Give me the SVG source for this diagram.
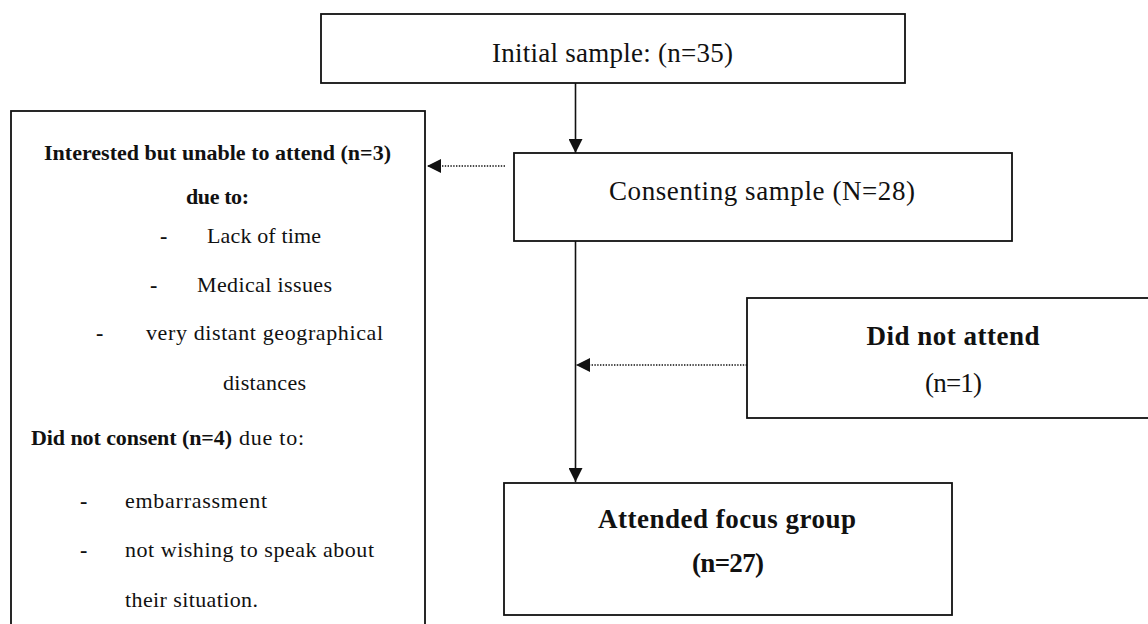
<svg xmlns="http://www.w3.org/2000/svg" width="1148" height="624" viewBox="0 0 1148 624">
  <style>
    .box { fill: #ffffff; stroke: #111111; stroke-width: 1.8; }
    .t { font-family: "Liberation Serif", "Times New Roman", serif; fill: #111111; }
    .big { font-size: 27px; }
    .small { font-size: 22px; }
    .b { font-weight: bold; }
    .mid { text-anchor: middle; }
    .solid { stroke: #111111; stroke-width: 1.6; fill: none; }
    .dot { stroke: #111111; stroke-width: 1.6; fill: none; stroke-dasharray: 1.4 1.4; }
  </style>
  <defs>
    <marker id="head" viewBox="0 0 14 14" refX="14" refY="7" markerWidth="14" markerHeight="14" markerUnits="userSpaceOnUse" orient="auto">
      <path d="M0,0 L14,7 L0,14 Z" fill="#111111"/>
    </marker>
  </defs>

  <rect width="1148" height="624" fill="#ffffff"/>

  <!-- connectors -->
  <g id="connectors">
    <line class="solid" x1="575.5" y1="83" x2="575.5" y2="153" marker-end="url(#head)"/>
    <line class="dot" x1="505" y1="166" x2="427" y2="166" marker-end="url(#head)"/>
    <line class="solid" x1="575.5" y1="241" x2="575.5" y2="482" marker-end="url(#head)"/>
    <line class="dot" x1="747" y1="365" x2="576" y2="365" marker-end="url(#head)"/>
  </g>

  <!-- initial sample -->
  <g id="initial">
    <rect class="box" x="321" y="14" width="584" height="69"/>
    <text class="t big" x="492" y="62" textLength="241">Initial sample: (n=35)</text>
  </g>

  <!-- consenting sample -->
  <g id="consenting">
    <rect class="box" x="514" y="153" width="498" height="88"/>
    <text class="t big" x="609" y="200" textLength="306">Consenting sample (N=28)</text>
  </g>

  <!-- reasons for non-participation -->
  <g id="excluded">
    <rect class="box" x="11" y="111" width="414" height="520"/>
    <text class="t small b mid" x="217.5" y="160" textLength="347">Interested but unable to attend (n=3)</text>
    <text class="t small b" x="186" y="204" textLength="63">due to:</text>
    <text class="t small b" x="160" y="243">-</text>
    <text class="t small" x="207" y="243" textLength="114">Lack of time</text>
    <text class="t small b" x="150" y="292">-</text>
    <text class="t small" x="197" y="292" textLength="135">Medical issues</text>
    <text class="t small b" x="96" y="340">-</text>
    <text class="t small" x="146" y="340" textLength="237">very distant geographical</text>
    <text class="t small" x="223" y="390" textLength="83">distances</text>
    <text class="t small"><tspan class="b" x="31" y="445" textLength="201">Did not consent (n=4)</tspan><tspan x="239" y="445" textLength="65">due to:</tspan></text>
    <text class="t small b" x="80" y="508">-</text>
    <text class="t small" x="125" y="508" textLength="142">embarrassment</text>
    <text class="t small b" x="80" y="557">-</text>
    <text class="t small" x="125" y="557" textLength="249">not wishing to speak about</text>
    <text class="t small" x="125" y="607" textLength="133">their situation.</text>
  </g>

  <!-- did not attend -->
  <g id="did-not-attend">
    <rect class="box" x="747" y="298" width="420" height="120"/>
    <text class="t big b mid" x="953" y="345" textLength="173">Did not attend</text>
    <text class="t big mid" x="953.5" y="392" textLength="57">(n=1)</text>
  </g>

  <!-- attended -->
  <g id="attended">
    <rect class="box" x="504" y="483" width="448" height="132"/>
    <text class="t big b mid" x="727" y="528" textLength="258">Attended focus group</text>
    <text class="t big b mid" x="728" y="572" textLength="72">(n=27)</text>
  </g>
</svg>
